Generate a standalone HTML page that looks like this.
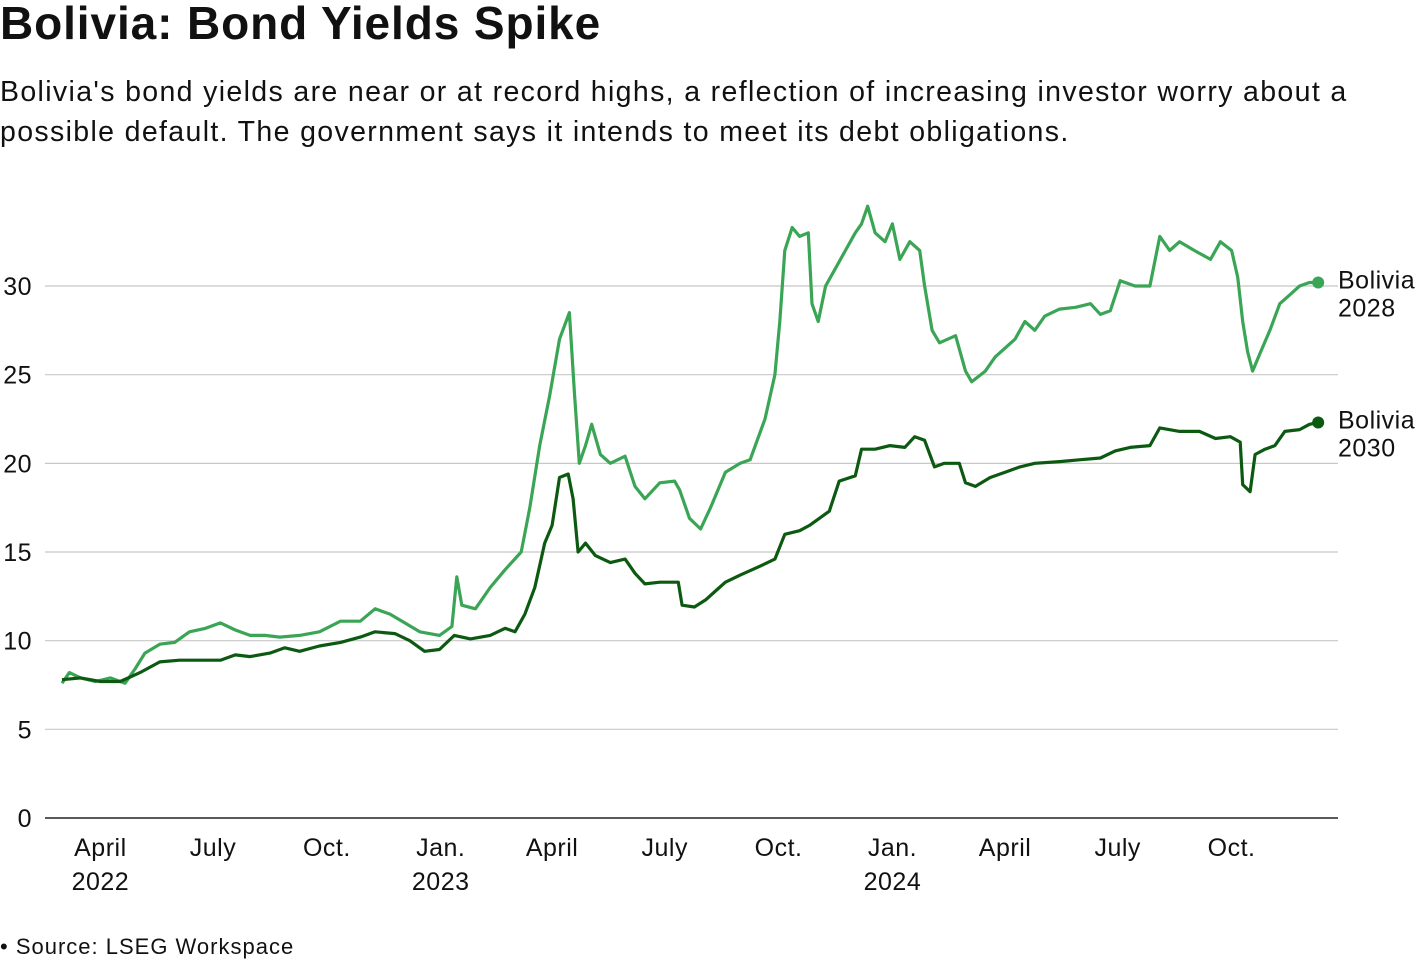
<!DOCTYPE html>
<html><head><meta charset="utf-8"><style>
body{margin:0;background:#fff;width:1420px;height:966px;overflow:hidden;font-family:"Liberation Sans",Arial,sans-serif;color:#111}
#title{position:absolute;left:0;top:-4px;font-size:46px;font-weight:bold;letter-spacing:0.9px;margin:0}
#sub{position:absolute;left:0;top:72px;font-size:28.5px;line-height:40px;width:1415px;letter-spacing:1.35px}
#src{position:absolute;left:0;top:934px;font-size:22px;letter-spacing:1px}
svg{position:absolute;left:0;top:0}
svg text{font-family:"Liberation Sans",Arial,sans-serif;font-size:25px;fill:#111;letter-spacing:0.5px}
</style></head><body>
<h1 id="title">Bolivia: Bond Yields Spike</h1>
<div id="sub">Bolivia's bond yields are near or at record highs, a reflection of increasing investor worry about a possible default. The government says it intends to meet its debt obligations.</div>
<div id="src">• Source: LSEG Workspace</div>
<svg id="chart" width="1420" height="966"></svg>
<script>
const yTicks=[0,5,10,15,20,25,30];
const xTickDays=[90,181,273,365,455,546,638,730,821,912,1004];
const xTickLabels=[["April","2022"],["July",""],["Oct.",""],["Jan.","2023"],["April",""],["July",""],["Oct.",""],["Jan.","2024"],["April",""],["July",""],["Oct.",""]];
const days2028=[59,65,74,86,98,110,118,126,138,150,162,175,187,199,211,223,235,251,267,284,300,312,324,336,348,364,374,378,382,393,405,417,430,437,445,453,461,469,473,477,482,487,494,502,514,522,530,542,554,558,566,575,583,595,607,615,627,635,639,643,649,655,662,665,670,676,684,692,700,705,710,716,724,730,736,744,752,756,762,768,781,789,794,805,813,821,829,837,845,853,865,878,890,898,906,914,926,938,946,954,962,974,987,995,1004,1009,1013,1017,1021,1027,1035,1043,1051,1059,1067,1074];
const vals2028=[7.6,8.2,7.9,7.7,7.9,7.6,8.4,9.3,9.8,9.9,10.5,10.7,11.0,10.6,10.3,10.3,10.2,10.3,10.5,11.1,11.1,11.8,11.5,11.0,10.5,10.3,10.8,13.6,12.0,11.8,13.0,14.0,15.0,17.5,21.0,23.8,27.0,28.5,24,20,21,22.2,20.5,20.0,20.4,18.7,18.0,18.9,19.0,18.5,16.9,16.3,17.5,19.5,20.0,20.2,22.5,25,28,32,33.3,32.8,33.0,29,28,30,31,32,33,33.5,34.5,33.0,32.5,33.5,31.5,32.5,32,30,27.5,26.8,27.2,25.2,24.6,25.2,26.0,26.5,27.0,28.0,27.5,28.3,28.7,28.8,29.0,28.4,28.6,30.3,30.0,30.0,32.8,32.0,32.5,32.0,31.5,32.5,32,30.5,28,26.3,25.2,26.2,27.5,29.0,29.5,30.0,30.2,30.2];
const days2030=[59,74,90,106,122,138,154,170,187,199,211,227,239,251,267,284,300,312,328,340,352,364,376,389,405,417,425,433,441,449,455,461,468,472,476,482,490,502,514,522,530,542,557,560,570,579,587,595,607,623,635,643,655,663,671,679,687,700,705,716,728,740,748,756,764,772,784,789,797,809,821,833,845,865,881,898,910,922,938,946,962,978,991,1003,1011,1013,1019,1023,1031,1039,1047,1059,1067,1074];
const vals2030=[7.8,7.9,7.7,7.7,8.2,8.8,8.9,8.9,8.9,9.2,9.1,9.3,9.6,9.4,9.7,9.9,10.2,10.5,10.4,10.0,9.4,9.5,10.3,10.1,10.3,10.7,10.5,11.5,13.0,15.5,16.5,19.2,19.4,18,15.0,15.5,14.8,14.4,14.6,13.8,13.2,13.3,13.3,12.0,11.9,12.3,12.8,13.3,13.7,14.2,14.6,16.0,16.2,16.5,16.9,17.3,19.0,19.3,20.8,20.8,21.0,20.9,21.5,21.3,19.8,20.0,20.0,18.9,18.7,19.2,19.5,19.8,20.0,20.1,20.2,20.3,20.7,20.9,21.0,22.0,21.8,21.8,21.4,21.5,21.2,18.8,18.4,20.5,20.8,21.0,21.8,21.9,22.2,22.3];
const NS="http://www.w3.org/2000/svg";
const svg=document.getElementById('chart');
const X=d=>d*1.2376-11;
const Y=v=>818-v*17.733;
function mk(t,a){const e=document.createElementNS(NS,t);for(const k in a)e.setAttribute(k,a[k]);svg.appendChild(e);return e;}
yTicks.forEach(v=>{
  const l=mk('line',{x1:45,x2:1338,y1:Y(v),y2:Y(v),stroke:v===0?'#222':'#c8c8c8','stroke-width':v===0?1.5:1.2});
  
  
  const t=mk('text',{x:32,y:Y(v)+9,'text-anchor':'end'});t.textContent=v;
  
  
});
xTickDays.forEach((d,i)=>{
  const t=mk('text',{x:X(d),y:856,'text-anchor':'middle'});t.textContent=xTickLabels[i][0];
  
  
  if(xTickLabels[i][1]){const t2=mk('text',{x:X(d),y:890,'text-anchor':'middle'});t2.textContent=xTickLabels[i][1];
  
  }
});
function series(days,vals,color,name,label){
  const p=mk('path',{d:days.map((d,i)=>(i?'L':'M')+X(d).toFixed(1)+','+Y(vals[i]).toFixed(1)).join(''),fill:'none',stroke:color,'stroke-width':3.2,'stroke-linejoin':'round'});
  
  
  const n=days.length-1;
  const c=mk('circle',{cx:X(days[n]),cy:Y(vals[n]),r:6,fill:color});
  
  
  const t=mk('text',{x:1338,y:Y(vals[n])+6});
  
  
  const a=mk('tspan',{x:1338,dy:0});a.textContent='Bolivia';t.appendChild(a);
  const b=mk('tspan',{x:1338,dy:28});b.textContent=label;t.appendChild(b);
}
series(days2028,vals2028,'#3ba556','bolivia-2028','2028');
series(days2030,vals2030,'#0c5a12','bolivia-2030','2030');
</script>
</body></html>
